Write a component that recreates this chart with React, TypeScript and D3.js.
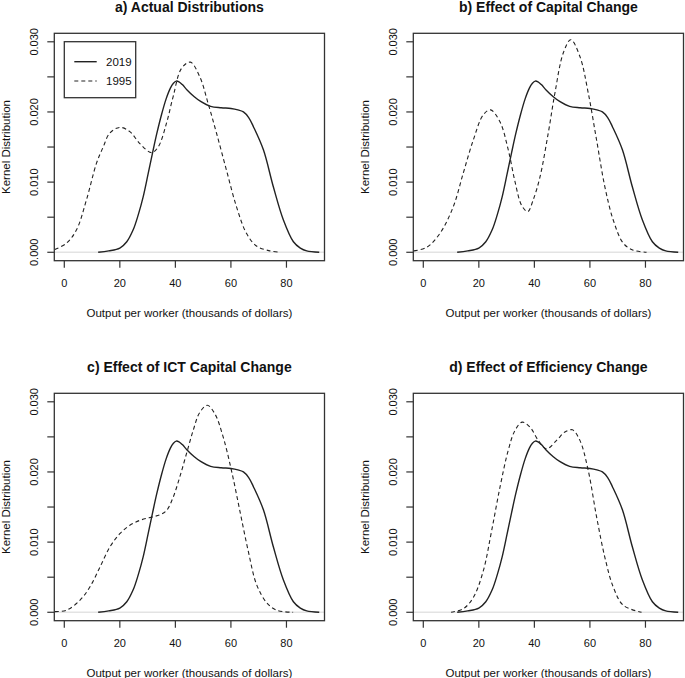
import React from "react";
import * as d3 from "d3";

// ---- Data ----
const xTicks = [0, 20, 40, 60, 80];
const yTicks = [0, 0.005, 0.01, 0.015, 0.02, 0.025, 0.03];
const yTickLabels = ["0.000", "", "0.010", "", "0.020", "", "0.030"];
const panelTitles = [
  "a) Actual Distributions",
  "b) Effect of Capital Change",
  "c) Effect of ICT Capital Change",
  "d) Effect of Efficiency Change",
];
const seriesNames = ["2019", "1995"];

// 2019 kernel density (same in all panels)
const x2019 = [12.2, 16, 20, 22.5, 24.8, 26.6, 28.4, 30.2, 31.8, 33.3, 35.0, 36.7, 38.2, 39.3, 40.3, 41.3, 42.5, 44.3, 46.7, 49.1, 52.7, 56.5, 60, 62.5, 64.5, 66.4, 68.1, 71.7, 75.3, 78.9, 82.5, 85, 87.3, 91.8];
const y2019 = [0, 0.0002, 0.0006, 0.0015, 0.0032, 0.0053, 0.0079, 0.0112, 0.0142, 0.0169, 0.0196, 0.0219, 0.0234, 0.0241, 0.0244, 0.0243, 0.0239, 0.0231, 0.0222, 0.0215, 0.0208, 0.0206, 0.0205, 0.0203, 0.02, 0.0192, 0.0179, 0.0146, 0.0093, 0.0046, 0.0015, 0.0006, 0.0002, 0];

// a) 1995 actual
const xA = [-3.4, 0.8, 4.4, 8.0, 11.6, 14, 16.4, 20, 23.6, 27.2, 31.4, 33.8, 36.8, 39.2, 42.2, 45.4, 48.8, 51.8, 54.8, 58.4, 62, 65.6, 69.2, 74, 77.6];
const yA = [0.0004, 0.0013, 0.0032, 0.0075, 0.0127, 0.015, 0.017, 0.0178, 0.0172, 0.0155, 0.0142, 0.015, 0.0184, 0.0222, 0.0262, 0.0271, 0.025, 0.0212, 0.017, 0.0117, 0.0065, 0.0027, 0.0009, 0.0002, 0];

// b) counterfactual: capital change
const xB = [-3.4, 1.2, 6.0, 10.8, 14.4, 18.0, 21.6, 24.2, 27.6, 30.6, 33.0, 35.4, 37.6, 39.6, 42.0, 45, 47.4, 50.4, 53.1, 56.4, 59.4, 62.4, 65.4, 68.4, 72, 75.6, 80.4];
const yB = [0.0002, 0.0007, 0.0027, 0.0065, 0.0113, 0.016, 0.0196, 0.0203, 0.0186, 0.0146, 0.0101, 0.0067, 0.0058, 0.0075, 0.0107, 0.017, 0.0227, 0.0284, 0.0303, 0.0279, 0.0227, 0.016, 0.0093, 0.0046, 0.0013, 0.0003, 0];

// c) counterfactual: ICT capital change
const xC = [-3.4, 0.8, 5.6, 9.2, 12.8, 16.4, 20, 23.6, 27.2, 30.8, 34.4, 36.8, 39.2, 41.6, 44.0, 46.4, 48.8, 51.5, 54.2, 57.2, 60.2, 63.2, 66.2, 69.2, 72.8, 76.4, 82.4];
const yC = [0.0001, 0.0003, 0.0017, 0.0036, 0.0064, 0.0093, 0.0112, 0.0124, 0.0131, 0.0135, 0.0139, 0.0145, 0.0164, 0.0193, 0.0226, 0.0259, 0.0285, 0.0295, 0.0283, 0.025, 0.0202, 0.0145, 0.0088, 0.004, 0.0014, 0.0003, 0];

// d) counterfactual: efficiency change
const xD = [10, 14.4, 18, 21.6, 24.6, 27.6, 30.6, 33.0, 35.6, 38.4, 41.4, 44.4, 48.0, 51.0, 53.7, 56.4, 59.4, 62.4, 65.4, 68.4, 72, 78.6];
const yD = [0, 0.0005, 0.0021, 0.0059, 0.0116, 0.0178, 0.0231, 0.0259, 0.0271, 0.0264, 0.0245, 0.0233, 0.0245, 0.0257, 0.026, 0.0245, 0.0202, 0.0136, 0.0078, 0.0036, 0.001, 0];

const dashedX = [xA, xB, xC, xD];
const dashedY = [yA, yB, yC, yD];

const FONT = "'Liberation Sans', Arial, sans-serif";
const INK = "#222";

function Panel({ idx, ox, oy }: { idx: number; ox: number; oy: number }) {
  const left = 54.3, right = 324.5, top = 33.3, bottom = 260.7;
  const x = d3.scaleLinear().domain([-3.6, 93.7]).range([left, right]);
  const y = d3.scaleLinear().domain([-0.0012, 0.03121]).range([bottom, top]);
  const line = d3
    .line<[number, number]>()
    .x((d) => x(d[0]))
    .y((d) => y(d[1]))
    .curve(d3.curveCatmullRom.alpha(0.5));
  const solid = x2019.map((v, i) => [v, y2019[i]] as [number, number]);
  const dashed = dashedX[idx].map((v, i) => [v, dashedY[idx][i]] as [number, number]);
  const cx = (left + right) / 2;
  const cy = (top + bottom) / 2;
  const clipId = `clip${idx}`;
  return (
    <g transform={`translate(${ox},${oy})`} fontFamily={FONT}>
      <defs>
        <clipPath id={clipId}>
          <rect x={left} y={top} width={right - left} height={bottom - top} />
        </clipPath>
      </defs>
      <text x={cx} y={12} textAnchor="middle" fontSize={14} fontWeight="bold" fill="#111">
        {panelTitles[idx]}
      </text>
      {/* zero reference line */}
      <line x1={left} x2={right} y1={y(0)} y2={y(0)} stroke="#e3e3e3" strokeWidth={1.5} />
      <g clipPath={`url(#${clipId})`}>
        <path d={line(dashed) || ""} fill="none" stroke={INK} strokeWidth={1.1} strokeDasharray="4,3" />
        <path d={line(solid) || ""} fill="none" stroke={INK} strokeWidth={1.4} />
      </g>
      <rect x={left} y={top} width={right - left} height={bottom - top} fill="none" stroke="#333" strokeWidth={1.3} />
      {/* x axis */}
      {xTicks.map((t) => (
        <g key={`xt${t}`}>
          <line x1={x(t)} x2={x(t)} y1={bottom} y2={bottom + 7} stroke="#333" strokeWidth={1.2} />
          <text x={x(t)} y={287.3} textAnchor="middle" fontSize={11} fill="#111">
            {t}
          </text>
        </g>
      ))}
      {/* y axis */}
      {yTicks.map((t, i) => (
        <g key={`yt${i}`}>
          <line x1={left - 7} x2={left} y1={y(t)} y2={y(t)} stroke="#333" strokeWidth={1.2} />
          {yTickLabels[i] && (
            <text
              transform={`translate(38.3,${y(t)}) rotate(-90)`}
              textAnchor="middle"
              fontSize={11}
              fill="#111"
            >
              {yTickLabels[i]}
            </text>
          )}
        </g>
      ))}
      <text x={cx} y={316.5} textAnchor="middle" fontSize={11.5} fill="#111">
        Output per worker (thousands of dollars)
      </text>
      <text transform={`translate(9.5,${cy}) rotate(-90)`} textAnchor="middle" fontSize={11.5} fill="#111">
        Kernel Distribution
      </text>
      {idx === 0 && (
        <g>
          <rect x={64.3} y={41.7} width={71.4} height={56} fill="white" stroke="#333" strokeWidth={1.3} />
          <line x1={74.3} x2={96.7} y1={61.7} y2={61.7} stroke={INK} strokeWidth={1.4} />
          <line x1={74.3} x2={96.7} y1={81} y2={81} stroke={INK} strokeWidth={1.1} strokeDasharray="4,3" />
          <text x={106} y={66} fontSize={11.5} fill="#111">{seriesNames[0]}</text>
          <text x={106} y={85} fontSize={11.5} fill="#111">{seriesNames[1]}</text>
        </g>
      )}
    </g>
  );
}

export default function App() {
  return (
    <svg
      width={685}
      height={678}
      style={{ position: "absolute", left: 0, top: 0, background: "white" }}
    >
      <rect width={685} height={678} fill="white" />
      <Panel idx={0} ox={0} oy={0} />
      <Panel idx={1} ox={359} oy={0} />
      <Panel idx={2} ox={0} oy={360} />
      <Panel idx={3} ox={359} oy={360} />
    </svg>
  );
}
